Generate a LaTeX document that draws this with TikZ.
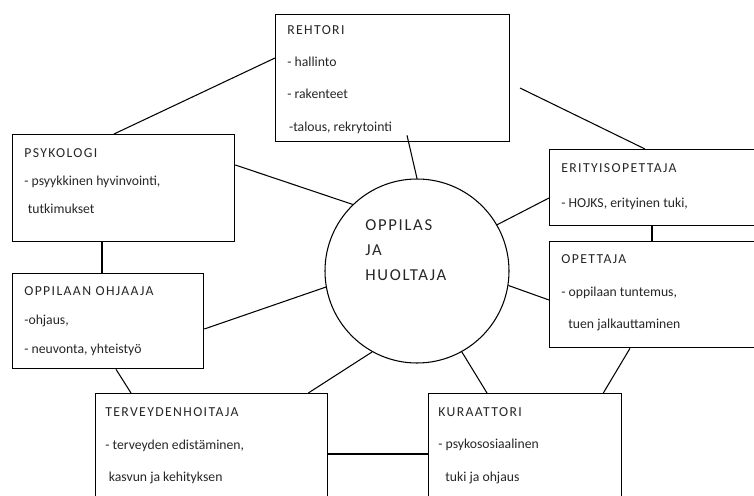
\documentclass[tikz,border=0pt]{standalone}
\usepackage{fontspec}
\usepackage{tikz}
\setmainfont{Carlito}
\newfontfamily\titlefont[LetterSpace=10]{Carlito}

\begin{document}
\begin{tikzpicture}[x=0.02cm,y=-0.02cm,
    box/.style 2 args={draw, line width=0.75pt, anchor=north west, inner sep=0pt,
        minimum width=#1*0.02cm, minimum height=#2*0.02cm},
    txt/.style={anchor=north west, align=left, inner sep=0pt, text=black!85,
        font=\fontsize{7.8}{#1}\selectfont},
    txt/.default=18.5,
    link/.style={line width=0.6pt}]
\useasboundingbox (0,0) rectangle (754,496);

% Centre
\node[draw, circle, line width=0.6pt, inner sep=0pt, minimum size=184*0.02cm] (circ) at (417,271) {};
\node[anchor=west, align=left, inner sep=0pt, text=black!85,
      font=\titlefont\fontsize{9.5}{14.2}\selectfont] (circtxt) at (365,250) {OPPILAS\\JA\\HUOLTAJA};

% Boxes
\node[box={234}{127}] (reh) at (275,14) {};
\node[box={222}{107}] (psy) at (12,134) {};
\node[box={191}{95}] (ohj) at (12,273) {};
\node[box={240}{76}] (eri) at (549,149) {};
\node[box={240}{106}] (ope) at (549,241) {};
\node[box={232}{140}] (ter) at (95,393) {};
\node[box={193}{140}] (kur) at (428,393) {};

% Texts
\node[txt=18.4] (rehtxt) at (287,25) {{\titlefont REHTORI}\\- hallinto\\- rakenteet\\\hspace{1pt}-talous, rekrytointi};
\node[txt=16] (psytxt) at (24,148) {{\titlefont PSYKOLOGI}\\- psyykkinen hyvinvointi,\\\hspace{2pt}tutkimukset};
\node[txt=16.7] (ohjtxt) at (24,286) {{\titlefont OPPILAAN OHJAAJA}\\-ohjaus,\\- neuvonta, yhteistyö};
\node[txt=19.8] (eritxt) at (561,163) {{\titlefont ERITYISOPETTAJA}\\- HOJKS, erityinen tuki,};
\node[txt=18.7] (opetxt) at (561,254) {{\titlefont OPETTAJA}\\- oppilaan tuntemus,\\\hspace{4pt}tuen jalkauttaminen};
\node[txt=18.7] (tertxt) at (105,407) {{\titlefont TERVEYDENHOITAJA}\\- terveyden edistäminen,\\\hspace{2pt}kasvun ja kehityksen};
\node[txt=18.5] (kurtxt) at (438,407) {{\titlefont KURAATTORI}\\- psykososiaalinen\\\hspace{4pt}tuki ja ohjaus};

% Connectors
\coordinate (rehE) at (520,88);
\draw[link] ([shift={(0,44)}]reh.north west) -- ([shift={(102,0)}]psy.north west);
\draw[link] ([shift={(132,-7)}]reh.south west) -- (circ.90);
\draw[link] (rehE) -- ([shift={(96,0)}]eri.north west);
\draw[link] ([shift={(0,31)}]psy.north east) -- (circ.134);
\draw[link] ([shift={(90,0)}]psy.south west) -- ([shift={(90,0)}]ohj.north west);
\draw[link] ([shift={(0,56)}]ohj.north east) -- (circ.190);
\draw[link] ([shift={(104,0)}]ohj.south west) -- ([shift={(36,0)}]ter.north west);
\draw[link] ([shift={(-20,0)}]ter.north east) -- (circ.241);
\draw[link] ([shift={(0,61)}]ter.north east) -- ([shift={(0,61)}]kur.north west);
\draw[link] ([shift={(59,0)}]kur.north west) -- (circ.299);
\draw[link] ([shift={(-19,0)}]kur.north east) -- ([shift={(81,0)}]ope.south west);
\draw[link] ([shift={(0,49)}]eri.north west) -- (circ.30);
\draw[link] ([shift={(103,0)}]eri.south west) -- ([shift={(103,0)}]ope.north west);
\draw[link] ([shift={(0,59)}]ope.north west) -- (circ.351);
\end{tikzpicture}
\end{document}
